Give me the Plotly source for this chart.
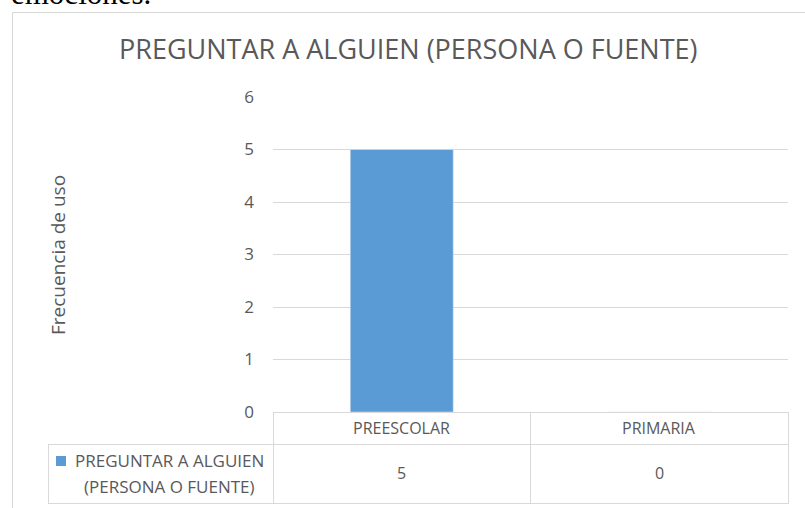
import plotly.graph_objects as go

categories = ["PREESCOLAR", "PRIMARIA"]
values = [5, 0]
series_name = "PREGUNTAR A ALGUIEN (PERSONA O FUENTE)"
legend_lines = ["PREGUNTAR A ALGUIEN", "(PERSONA O FUENTE)"]
y_ticks = [0, 1, 2, 3, 4, 5, 6]
title_text = "PREGUNTAR A ALGUIEN (PERSONA O FUENTE)"
y_title = "Frecuencia de uso"
top_text = "emociones."

W, H = 805, 508
L, R, T, B = 273, 17, 97, 96
pw, ph = W - L - R, H - T - B

def px_x(p):
    return (p - L) / pw

def px_y(p):
    return (H - B - p) / ph

FONT = "Open Sans"
GREY = "#595959"
LINE = "#d9d9d9"

fig = go.Figure()
fig.add_trace(go.Bar(x=categories, y=values, marker_color="#5b9bd5", width=0.4,
                     name=series_name, showlegend=False))

shapes = []
def hline(y, x0, x1):
    shapes.append(dict(type="line", xref="paper", yref="paper", x0=px_x(x0), x1=px_x(x1),
                       y0=px_y(y), y1=px_y(y), line=dict(color=LINE, width=1)))
def vline(x, y0, y1):
    shapes.append(dict(type="line", xref="paper", yref="paper", x0=px_x(x), x1=px_x(x),
                       y0=px_y(y0), y1=px_y(y1), line=dict(color=LINE, width=1)))

# outer chart border
shapes.append(dict(type="rect", xref="paper", yref="paper", x0=px_x(12.5), x1=px_x(820),
                   y0=px_y(520), y1=px_y(12.5), line=dict(color="#d6d6d6", width=1)))
# data table
hline(412.5, 273, 788)
hline(444.5, 48, 788)
hline(503.5, 48, 788)
vline(273.5, 412, 504)
vline(530.5, 412, 504)
vline(788.5, 412, 504)
vline(48.5, 444, 504)
# legend key
shapes.append(dict(type="rect", xref="paper", yref="paper", x0=px_x(56), x1=px_x(66),
                   y0=px_y(466), y1=px_y(456), fillcolor="#5b9bd5", line=dict(width=0)))

annotations = []
for c, v in zip(categories, values):
    annotations.append(dict(x=c, xref="x", xanchor="center", y=px_y(428), yref="paper",
                            yanchor="middle", text=c, showarrow=False,
                            font=dict(family=FONT, size=16, color=GREY)))
    annotations.append(dict(x=c, xref="x", xanchor="center", y=px_y(473), yref="paper",
                            yanchor="middle", text=str(v), showarrow=False,
                            font=dict(family=FONT, size=16, color=GREY)))
for line, yy in zip(legend_lines, [461, 486]):
    annotations.append(dict(x=px_x(169), xref="paper", xanchor="center", y=px_y(yy),
                            yref="paper", yanchor="middle", text=line, showarrow=False,
                            font=dict(family=FONT, size=17, color=GREY)))
annotations.append(dict(x=px_x(58), xref="paper", xanchor="center", y=px_y(255), yref="paper",
                        yanchor="middle", text=y_title,
                        textangle=-90, showarrow=False, font=dict(family=FONT, size=19, color=GREY)))
annotations.append(dict(x=px_x(408), xref="paper", xanchor="center", y=px_y(48), yref="paper",
                        yanchor="middle", text=title_text,
                        showarrow=False, font=dict(family=FONT, size=27, color=GREY)))
annotations.append(dict(x=px_x(9), xref="paper", xanchor="left", y=px_y(13), yref="paper",
                        yanchor="bottom", text=top_text, showarrow=False,
                        font=dict(family="Liberation Serif", size=31, color="black")))

fig.update_layout(
    width=W, height=H, margin=dict(l=L, r=R, t=T, b=B),
    paper_bgcolor="white", plot_bgcolor="white",
    shapes=shapes, annotations=annotations,
    xaxis=dict(range=[-0.5, 1.5], showticklabels=False, showgrid=False, zeroline=False,
               showline=False, ticks=""),
    yaxis=dict(range=[0, 6], tickvals=y_ticks, showgrid=True, gridcolor=LINE, gridwidth=1,
               zeroline=False, showline=False, ticks="", ticklabelstandoff=18,
               tickfont=dict(family=FONT, size=17, color=GREY)),
    font=dict(family=FONT),
)
fig.write_html("out.html", config={"displayModeBar": False},
               post_script="document.body.style.margin='0';document.body.style.overflow='hidden';")
